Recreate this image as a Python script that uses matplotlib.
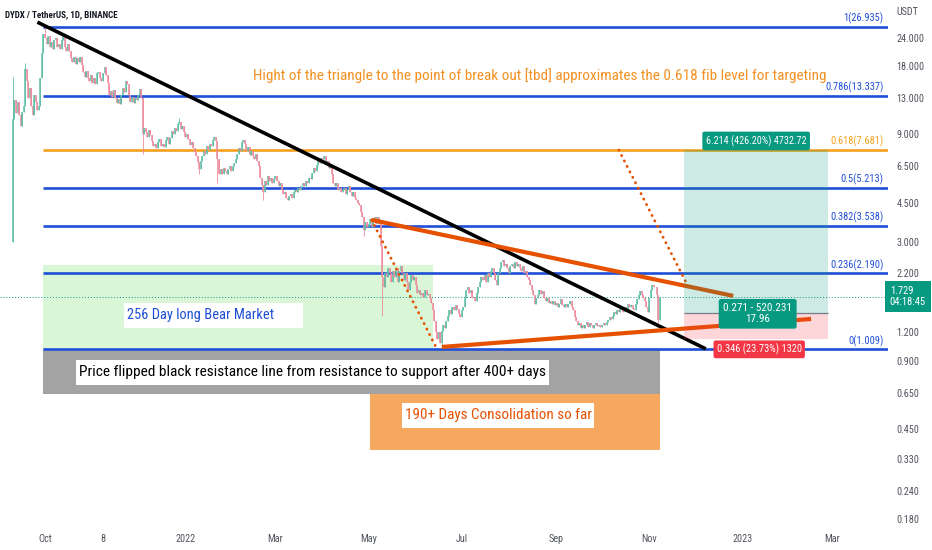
import numpy as np
import pandas as pd
import matplotlib
matplotlib.use('Agg')
import matplotlib.pyplot as plt
import matplotlib.dates as mdates
from matplotlib import font_manager
from matplotlib.transforms import blended_transform_factory

# ---- data ----
first_day = '2021-09-10'
first_open = 3.0
closes = [
    10.5, 12.8, 11.2, 12.5, 11.0, 9.8, 11.3, 12.0, 17.5, 15.5,
    13.0, 14.5, 12.0, 11.0, 13.5, 12.5, 11.5, 12.0, 16.0, 20.5,
    25.0, 24.0, 22.5, 24.5, 22.0, 23.0, 21.5, 23.5, 24.0, 21.8,
    22.5, 21.5, 23.5, 24.5, 22.0, 21.0, 22.5, 21.0, 19.5, 18.8,
    19.8, 18.5, 19.5, 18.8, 19.8, 18.2, 17.0, 16.2, 17.2, 16.0,
    15.5, 16.5, 15.2, 16.0, 15.0, 16.8, 17.0, 16.0, 15.5, 16.8,
    17.8, 16.5, 15.2, 13.5, 14.0, 13.2, 14.2, 13.0, 12.4, 12.9,
    12.2, 13.5, 14.5, 13.8, 15.5, 15.0, 13.5, 12.5, 13.2, 12.4,
    13.0, 12.8, 13.5, 14.3, 13.0, 9.0, 9.6, 9.2, 8.8, 9.4,
    8.9, 8.4, 8.0, 8.2, 7.8, 8.3, 8.6, 8.0, 8.2, 7.9,
    8.5, 8.8, 8.2, 8.7, 9.3, 9.0, 9.6, 9.3, 10.0, 10.2,
    9.5, 9.8, 9.2, 8.8, 9.0, 8.6, 8.1, 8.3, 7.8, 7.5,
    7.2, 6.8, 6.3, 6.9, 7.2, 7.6, 7.4, 8.0, 7.7, 8.2,
    8.0, 8.5, 8.8, 8.4, 7.0, 6.0, 6.3, 6.0, 6.4, 6.2,
    6.0, 6.3, 6.5, 6.2, 6.5, 6.7, 7.0, 7.4, 7.8, 7.6,
    8.3, 8.5, 8.2, 7.6, 7.9, 7.3, 7.6, 7.2, 7.0, 7.4,
    6.9, 6.5, 5.8, 5.4, 5.0, 5.6, 5.4, 5.9, 5.6, 5.8,
    5.5, 5.7, 5.9, 5.6, 5.3, 5.5, 5.1, 4.9, 5.0, 4.7,
    4.6, 4.8, 4.9, 4.7, 5.0, 5.1, 5.0, 5.2, 5.1, 5.3,
    5.5, 5.3, 5.6, 5.5, 5.8, 5.7, 6.1, 6.4, 6.2, 6.6,
    6.9, 6.7, 7.1, 7.0, 7.2, 6.8, 6.9, 6.4, 6.5, 6.0,
    5.5, 5.3, 5.5, 5.1, 5.2, 5.0, 5.1, 5.2, 4.9, 5.1,
    5.3, 5.0, 4.8, 5.0, 4.7, 4.6, 4.5, 4.4, 4.1, 3.9,
    3.4, 3.7, 3.5, 3.6, 3.8, 3.5, 3.7, 3.9, 3.6, 3.9,
    3.6, 2.9, 2.1, 1.9, 2.2, 2.1, 2.3, 2.2, 2.0, 2.25,
    2.1, 2.3, 2.0, 2.25, 2.35, 2.2, 2.05, 2.2, 2.0, 1.85,
    2.0, 2.15, 2.05, 2.1, 1.95, 1.8, 1.85, 1.75, 1.8, 1.72,
    1.85, 1.75, 1.78, 1.7, 1.62, 1.5, 1.35, 1.2, 1.12, 1.2,
    1.08, 1.22, 1.3, 1.25, 1.35, 1.42, 1.5, 1.45, 1.55, 1.5,
    1.58, 1.52, 1.45, 1.4, 1.5, 1.55, 1.7, 1.85, 1.9, 1.8,
    1.85, 1.7, 1.72, 1.65, 1.8, 1.9, 2.0, 2.1, 2.05, 2.15,
    2.0, 2.2, 2.1, 2.25, 2.3, 2.2, 2.05, 1.95, 2.2, 2.3,
    2.45, 2.5, 2.35, 2.4, 2.3, 2.2, 2.35, 2.4, 2.3, 2.45,
    2.35, 2.4, 2.3, 2.25, 2.35, 2.2, 2.25, 2.1, 2.05, 1.95,
    1.85, 1.75, 1.6, 1.7, 1.75, 1.85, 1.78, 1.82, 1.7, 1.65,
    1.7, 1.62, 1.65, 1.6, 1.65, 1.58, 1.62, 1.55, 1.6, 1.68,
    1.58, 1.55, 1.6, 1.55, 1.6, 1.65, 1.55, 1.5, 1.4, 1.35,
    1.3, 1.32, 1.26, 1.3, 1.25, 1.3, 1.33, 1.27, 1.32, 1.3,
    1.26, 1.3, 1.32, 1.28, 1.3, 1.27, 1.3, 1.32, 1.3, 1.33,
    1.36, 1.4, 1.38, 1.42, 1.47, 1.45, 1.5, 1.47, 1.52, 1.5,
    1.48, 1.55, 1.52, 1.6, 1.55, 1.58, 1.52, 1.5, 1.6, 1.68,
    1.75, 1.82, 1.75, 1.7, 1.65, 1.55, 1.48, 1.7, 1.85, 1.95,
    1.9, 1.9, 1.75, 1.36, 1.729,
]
# wick extremes that stick out of the bodies
spike_days = ['2021-09-10', '2021-09-18', '2021-10-01', '2021-12-04', '2021-12-28',
              '2022-01-10', '2022-01-22', '2022-02-21', '2022-04-28', '2022-05-10',
              '2022-06-18', '2022-11-07']
spike_prices = [16.2, 18.7, 27.5, 7.4, 10.6, 6.0, 5.5, 4.6, 3.2, 1.42, 1.02, 1.32]
last_price = 1.729

fib_ratios = ['1', '0.786', '0.618', '0.5', '0.382', '0.236', '0']
fib_prices = [26.935, 13.337, 7.681, 5.213, 3.538, 2.190, 1.009]
fib_start = '2021-09-30'

black_dates = ['2021-09-26', '2022-12-08']
black_prices = [28.2, 1.015]
upper_dates = ['2022-05-03', '2022-12-26']
upper_prices = [3.77, 1.74]
lower_dates = ['2022-06-18', '2023-02-15']
lower_prices = [1.035, 1.376]
drop_dates = ['2022-05-03', '2022-06-14']
drop_prices = [3.77, 1.04]
target_dates = ['2022-10-12', '2022-11-25']
target_prices = [7.681, 2.0]

bear_dates = ['2021-09-30', '2022-06-12']
bear_prices = [1.009, 2.38]
flip_dates = ['2021-09-30', '2022-11-08']
flip_prices = [0.641, 1.009]
cons_dates = ['2022-05-02', '2022-11-08']
cons_prices = [0.363, 0.641]

pos_dates = ['2022-11-24', '2023-02-26']
pos_entry, pos_target, pos_stop = 1.467, 7.681, 1.121

price_ticks = [24, 18, 13, 9, 6.5, 4.5, 3, 2.2, 1.2, 0.9, 0.65, 0.45, 0.33, 0.24, 0.18]
time_ticks = ['2021-10-01', '2021-11-08', '2022-01-01', '2022-03-01', '2022-05-01',
              '2022-07-01', '2022-09-01', '2022-11-01', '2023-01-01', '2023-03-01']
time_labels = ['Oct', '8', '2022', 'Mar', 'May', 'Jul', 'Sep', 'Nov', '2023', 'Mar']

# ---- style ----
names = {f.name for f in font_manager.fontManager.ttflist}
NARROW = next((n for n in ['Liberation Sans Narrow', 'Roboto Condensed', 'Open Sans Condensed']
               if n in names), 'DejaVu Sans')
plt.rcParams['font.family'] = [NARROW, 'DejaVu Sans']

BLUE = '#1f4fd6'
FIBORANGE = '#f5a01e'
TRI = '#e65100'
TEAL = '#089981'
RED = '#f23645'
GREEN_C = '#5fbea6'
RED_C = '#ee8a9c'
AXTXT = '#50535e'


def dn(s):
    return mdates.date2num(pd.Timestamp(s))


def dns(lst):
    return [dn(s) for s in lst]


fig = plt.figure(figsize=(9.32, 5.5), dpi=100)
ax = fig.add_axes([0, 22 / 550, 888 / 932, 528 / 550])
ax.set_yscale('log')
ax.set_ylim(0.164, 35.33)
x0 = dn('2021-10-01')
ax.set_xlim(x0 - 29.5, x0 + 552.4)
for s in ax.spines.values():
    s.set_visible(False)

# boxes
ax.fill_between(dns(bear_dates), bear_prices[0], bear_prices[1], color='#d9f7d6', lw=0, zorder=1)
ax.fill_between(dns(flip_dates), flip_prices[0], flip_prices[1], color='#a3a3a3', lw=0, zorder=1)
ax.fill_between(dns(cons_dates), cons_prices[0], cons_prices[1], color='#f6a860', lw=0, zorder=1)

# fib levels
xmax = ax.get_xlim()[1]
for r, p in zip(fib_ratios, fib_prices):
    col = FIBORANGE if r == '0.618' else BLUE
    ax.hlines(p, dn(fib_start), xmax, color=col, lw=1.9, zorder=2)
    ax.annotate(f'{r}({p:.3f})', xy=(0.995, p), xycoords=('axes fraction', 'data'),
                xytext=(0, 2), textcoords='offset points', ha='right', va='bottom',
                color=col, fontsize=7.5, zorder=6)

# current price line
ax.axhline(last_price, color=TEAL, lw=0.7, ls=(0, (1, 2)), zorder=2)

# candles
x = mdates.date2num(pd.date_range(first_day, periods=len(closes)))
c = np.array(closes)
o = np.r_[first_open, c[:-1]]
hi = np.maximum(o, c)
lo = np.minimum(o, c)
for d, p in zip(spike_days, spike_prices):
    i = int(round(dn(d) - x[0]))
    hi[i] = max(hi[i], p)
    lo[i] = min(lo[i], p)
cols = np.where(c >= o, GREEN_C, RED_C)
ax.vlines(x, lo, hi, colors=cols, lw=0.6, zorder=3)
ax.vlines(x, np.minimum(o, c), np.maximum(o, c), colors=cols, lw=1.1, zorder=3)

# trend lines
ax.plot(dns(black_dates), black_prices, color='black', lw=2.6, solid_capstyle='butt', zorder=4)
ax.plot(dns(upper_dates), upper_prices, color=TRI, lw=3, solid_capstyle='butt', zorder=4)
ax.plot(dns(lower_dates), lower_prices, color=TRI, lw=3, solid_capstyle='butt', zorder=4)
for dd, pp in [(drop_dates, drop_prices), (target_dates, target_prices)]:
    ax.plot(dns(dd), pp, color=TRI, lw=2.0, ls=(0, (0.1, 2.1)),
            dash_capstyle='round', zorder=4)

# long position tool
px = dns(pos_dates)
ax.fill_between(px, pos_entry, pos_target, color=TEAL, alpha=0.2, lw=0, zorder=5)
ax.fill_between(px, pos_stop, pos_entry, color=RED, alpha=0.2, lw=0, zorder=5)
ax.hlines(pos_entry, px[0], px[1], color='#787b86', lw=0.9, zorder=5)
mid = (px[0] + px[1]) / 2
lab = dict(ha='center', va='center', color='white', zorder=7)
ax.text(mid, 8.42, '6.214 (426.20%) 4732.72', fontsize=7.3,
        bbox=dict(boxstyle='round,pad=0.35,rounding_size=0.2', fc=TEAL, ec='none'), **lab)
ax.text(mid + 1, 1.45, '0.271 - 520.231\n17.96', linespacing=1.1, fontsize=8,
        bbox=dict(boxstyle='round,pad=0.4,rounding_size=0.2', fc=TEAL, ec='none'), **lab)
ax.text(mid + 2, 1.01, '0.346 (23.73%) 1320', fontsize=7.5,
        bbox=dict(boxstyle='round,pad=0.3,rounding_size=0.2', fc=RED, ec='none'), **lab)

# annotation texts
renderer = fig.canvas.get_renderer()


def fit(t, width_px):
    w = t.get_window_extent(renderer).width
    t.set_fontsize(t.get_fontsize() * width_px / w)


t = ax.text(dn('2022-02-14'), 16.3, 'Hight of the triangle to the point of break out [tbd] '
            'approximates the 0.618 fib level for targeting',
            color='#f39021', fontsize=12, va='center', ha='left', zorder=7)
fit(t, 573)

ax.fill_between([dn('2021-11-22'), dn('2022-03-19')], 1.257, 1.62, color='white', lw=0, zorder=6)
t = ax.text(dn('2021-11-24'), 1.43, '256 Day long Bear Market', color=BLUE,
            fontsize=12, va='center', ha='left', zorder=7)
fit(t, 147)

ax.fill_between([dn('2021-10-21'), dn('2022-08-27')], 0.704, 0.907, color='white', lw=0, zorder=6)
t = ax.text(dn('2021-10-23'), 0.80, 'Price flipped black resistance line from resistance '
            'to support after 400+ days', color='black', fontsize=12,
            va='center', ha='left', zorder=7)
fit(t, 466)

ax.fill_between([dn('2022-05-23'), dn('2022-09-26')], 0.455, 0.586, color='white', lw=0, zorder=6)
t = ax.text(dn('2022-05-25'), 0.517, '190+ Days Consolidation so far', color=TRI,
            fontsize=12, va='center', ha='left', zorder=7)
fit(t, 186)

# axes ticks
ax.yaxis.tick_right()
ax.set_yticks(price_ticks)
ax.set_yticklabels([f'{v:.3f}' for v in price_ticks])
ax.yaxis.set_minor_locator(matplotlib.ticker.NullLocator())
ax.tick_params(axis='y', length=0, pad=6, labelsize=7.3, labelcolor=AXTXT)
ax.set_xticks(dns(time_ticks))
ax.set_xticklabels(time_labels)
ax.tick_params(axis='x', length=0, pad=4, labelsize=7.3, labelcolor=AXTXT)

# price tag on the axis
tr = blended_transform_factory(ax.transAxes, ax.transData)
ax.text(1.002, last_price, f'{last_price:.3f}\n04:18:45', transform=tr, ha='left', va='center',
        color='white', fontsize=7.6, linespacing=1.15, clip_on=False, zorder=8,
        bbox=dict(boxstyle='square,pad=0.45', fc=TEAL, ec='none'))

fig.text(896 / 932, 1 - 12 / 550, 'USDT', fontsize=7.3, color=AXTXT, va='center')
t = fig.text(5 / 932, 1 - 15 / 550, 'DYDX / TetherUS, 1D, BINANCE', fontsize=8,
             color='#131722', va='center', ha='left', weight='semibold')
fit(t, 113)

fig.savefig('out.png', dpi=100)
